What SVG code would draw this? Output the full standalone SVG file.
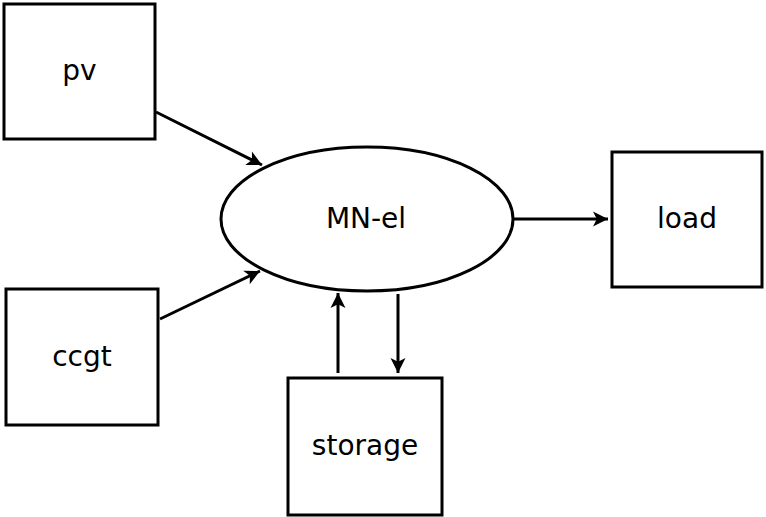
<svg xmlns="http://www.w3.org/2000/svg" width="766" height="517" viewBox="0 0 766 517">
<defs>
<style>
.n{fill:#fff;stroke:#000;stroke-width:3}
.t{font-family:"DejaVu Sans",sans-serif;font-size:28px;fill:#000;text-anchor:middle}
.c{stroke:#000;stroke-width:3;fill:none}
</style>
<marker id="a" markerUnits="userSpaceOnUse" markerWidth="20" markerHeight="20" viewBox="0 0 20 20" refX="16" refY="10" orient="auto">
<path d="M16,10 L1,2.5 L4.8,10 L1,17.5 Z" fill="#000"/>
</marker>
</defs>
<rect width="766" height="517" fill="#fff"/>
<g id="connectors">
<line class="c" x1="156" y1="112" x2="262" y2="165" marker-end="url(#a)"/>
<line class="c" x1="160" y1="319" x2="260" y2="271" marker-end="url(#a)"/>
<line class="c" x1="513" y1="219" x2="608" y2="219" marker-end="url(#a)"/>
<line class="c" x1="338" y1="373" x2="338" y2="293" marker-end="url(#a)"/>
<line class="c" x1="398" y1="294" x2="398" y2="373" marker-end="url(#a)"/>
</g>
<g id="pv"><rect class="n" x="4" y="4" width="151" height="135"/><text class="t" x="79.5" y="80">pv</text></g>
<g id="ccgt"><rect class="n" x="6" y="289" width="152" height="136"/><text class="t" x="82" y="366">ccgt</text></g>
<g id="storage"><rect class="n" x="288" y="378" width="154" height="137"/><text class="t" x="365" y="455">storage</text></g>
<g id="load"><rect class="n" x="612" y="152" width="150" height="135"/><text class="t" x="687" y="228">load</text></g>
<g id="mn-el"><ellipse class="n" cx="367" cy="219" rx="146" ry="72"/><text class="t" x="366" y="228">MN-el</text></g>
</svg>
